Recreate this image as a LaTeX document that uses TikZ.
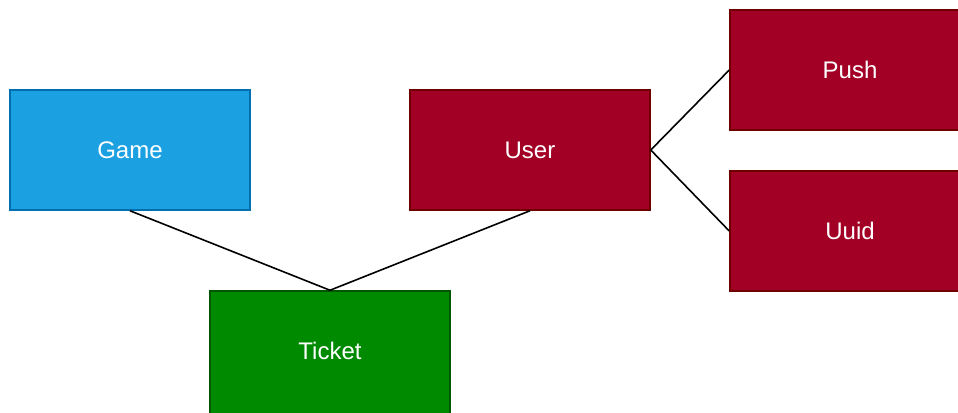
\documentclass[tikz,border=0pt]{standalone}
\usepackage{fontspec}
\setmainfont{Liberation Sans}
\definecolor{gamefill}{HTML}{1BA1E2}
\definecolor{gameline}{HTML}{006EAF}
\definecolor{redfill}{HTML}{A20025}
\definecolor{redline}{HTML}{6F0000}
\definecolor{greenfill}{HTML}{008A00}
\definecolor{greenline}{HTML}{005700}
\tikzset{
  entity/.style={rectangle, minimum width=240bp, minimum height=120bp, inner sep=0pt,
    line width=1.5bp, text=white, font=\fontsize{24bp}{28bp}\selectfont},
  blueent/.style={entity, fill=gamefill, draw=gameline},
  redent/.style={entity, fill=redfill, draw=redline},
  greenent/.style={entity, fill=greenfill, draw=greenline},
  link/.style={line width=1.6bp, black}
}
\begin{document}
\begin{tikzpicture}[x=1bp,y=-1bp]
\useasboundingbox (0,0) rectangle (958,412);
\begin{scope}
\clip (0,0) rectangle (958,412);
\node[blueent] (game) at (130,150) {Game};
\node[redent] (user) at (530,150) {User};
\node[redent, minimum width=300bp] (push) at (880,70) {};
\node[redent, minimum width=300bp] (uuid) at (880,231) {};
\node[greenent, minimum height=140bp] (ticket) at (330,361) {};
\end{scope}
\node[text=white, font=\fontsize{24bp}{28bp}\selectfont] (pushlabel) at (850,70) {Push};
\node[text=white, font=\fontsize{24bp}{28bp}\selectfont] (uuidlabel) at (850,231) {Uuid};
\node[text=white, font=\fontsize{24bp}{28bp}\selectfont] (ticketlabel) at (330,351) {Ticket};
\draw[link] (game.south) -- (ticket.north);
\draw[link] (user.south) -- (ticket.north);
\draw[link] (user.east) -- (push.west);
\draw[link] (user.east) -- (uuid.west);
\end{tikzpicture}
\end{document}
